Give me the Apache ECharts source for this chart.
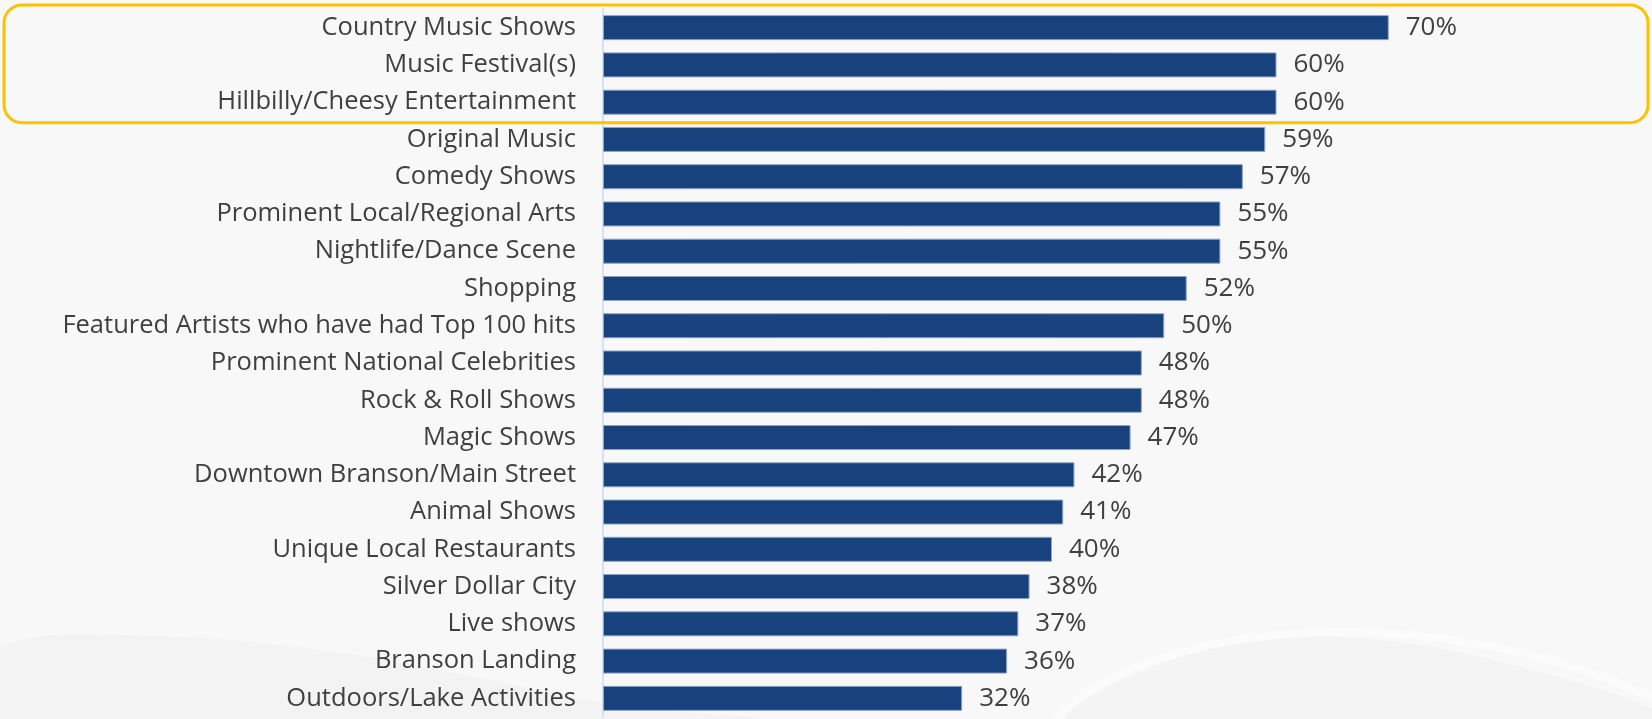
<!DOCTYPE html>
<html>
<head>
<meta charset="utf-8">
<script src="https://cdn.jsdelivr.net/npm/echarts@6/dist/echarts.min.js"></script>
<style>
  html, body { margin: 0; padding: 0; background: #f8f8f8; }
  #chart { width: 1652px; height: 719px; }
</style>
</head>
<body>
<div id="chart"></div>
<script>
// Entertainment attributes, ordered from highest to lowest share
const categories = [
  'Country Music Shows',
  'Music Festival(s)',
  'Hillbilly/Cheesy Entertainment',
  'Original Music',
  'Comedy Shows',
  'Prominent Local/Regional Arts',
  'Nightlife/Dance Scene',
  'Shopping',
  'Featured Artists who have had Top 100 hits',
  'Prominent National Celebrities',
  'Rock & Roll Shows',
  'Magic Shows',
  'Downtown Branson/Main Street',
  'Animal Shows',
  'Unique Local Restaurants',
  'Silver Dollar City',
  'Live shows',
  'Branson Landing',
  'Outdoors/Lake Activities'
];
const values = [70, 60, 60, 59, 57, 55, 55, 52, 50, 48, 48, 47, 42, 41, 40, 38, 37, 36, 32];

// First and last row inside the yellow highlight frame
const highlightRows = [0, 2];

const FONT = '"Open Sans", "Noto Sans", sans-serif';
const TEXT = '#404040';

const chart = echarts.init(document.getElementById('chart'), null, { renderer: 'canvas' });

chart.setOption({
  backgroundColor: '#f8f8f8',
  animation: false,
  grid: { left: 603, top: 9, height: 708, right: 151, containLabel: false },
  xAxis: {
    type: 'value',
    min: 0,
    max: 80,
    show: false,
    splitLine: { show: false }
  },
  yAxis: {
    type: 'category',
    inverse: true,
    data: categories,
    axisLine: { show: true, lineStyle: { color: '#d4e2f3', width: 2 } },
    axisTick: { show: false },
    axisLabel: {
      margin: 27,
      fontFamily: FONT,
      fontSize: 25.5,
      color: TEXT
    }
  },
  series: [{
    type: 'bar',
    data: values,
    barWidth: 25,
    itemStyle: {
      color: '#17427d',
      borderColor: '#8fa4c3',
      borderWidth: 1
    },
    label: {
      show: true,
      position: 'right',
      distance: 17,
      formatter: '{c}%',
      fontFamily: FONT,
      fontSize: 26,
      color: TEXT
    },
    z: 3
  }]
});

// Faint background shapes along the bottom edge, plus the highlight frame
function drawDecor() {
  const yTop = chart.convertToPixel({ yAxisIndex: 0 }, highlightRows[0]);
  const yBot = chart.convertToPixel({ yAxisIndex: 0 }, highlightRows[1]);
  const half = 37.3 / 2;
  chart.setOption({
    graphic: [
      {
        type: 'polygon',
        silent: true,
        z: -10,
        shape: {
          points: [[0, 719], [0, 648], [150, 636], [320, 650], [480, 678], [620, 706], [760, 719]],
          smooth: 0.35
        },
        style: { fill: '#f3f3f3' }
      },
      {
        type: 'polygon',
        silent: true,
        z: -10,
        shape: {
          points: [[1070, 719], [1150, 668], [1265, 640], [1400, 642], [1540, 672], [1652, 708], [1652, 719]],
          smooth: 0.35
        },
        style: { fill: '#f4f4f4' }
      },
      {
        type: 'bezierCurve',
        silent: true,
        z: -9,
        shape: { x1: 1055, y1: 719, cpx1: 1160, cpy1: 612, cpx2: 1450, cpy2: 602, x2: 1652, y2: 698 },
        style: { fill: 'none', stroke: '#fbfbfb', lineWidth: 8 }
      },
      {
        type: 'rect',
        silent: true,
        z: 10,
        shape: {
          x: 4,
          y: yTop - half - 4,
          width: 1644,
          height: (yBot - yTop) + 2 * half + 6,
          r: 18
        },
        style: { fill: 'none', stroke: '#ffc000', lineWidth: 3 }
      }
    ]
  });
}
drawDecor();
</script>
</body>
</html>
